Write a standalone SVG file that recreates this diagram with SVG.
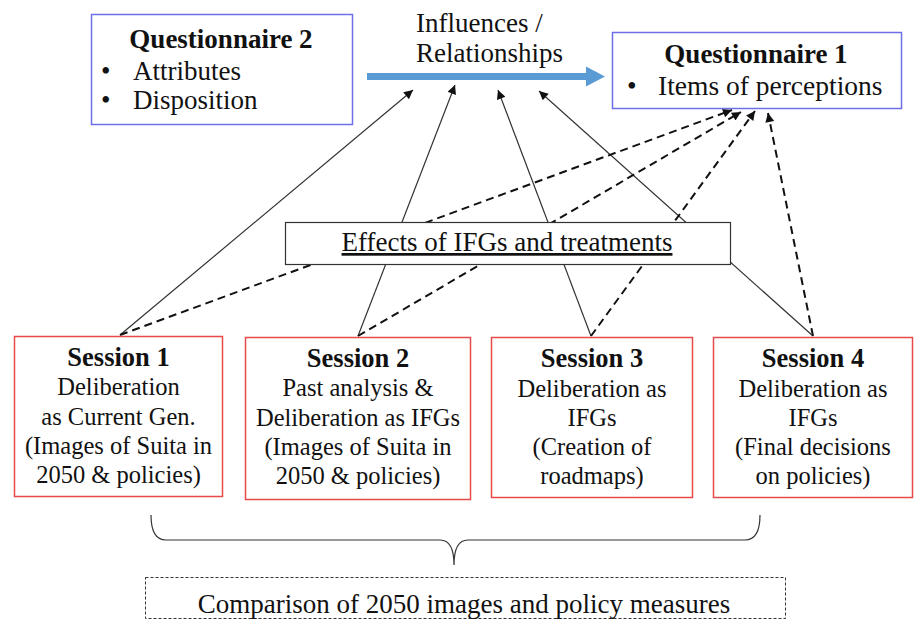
<svg xmlns="http://www.w3.org/2000/svg" width="914" height="619" viewBox="0 0 914 619">
<defs>
<style>
text{font-family:"Liberation Serif","Times New Roman",serif;fill:#111}
.t{font-size:27px}
.q{font-size:27.5px}
.b{font-size:27px;font-weight:bold}
.st{font-size:26.5px;font-weight:bold}
.s{font-size:24.5px}
.m{text-anchor:middle}
.qbox{fill:#fff;stroke:#6e6ee8;stroke-width:1.5}
.sbox{fill:#fff;stroke:#e84a4a;stroke-width:1.5}
.solid{stroke:#333;stroke-width:1.2;fill:none;marker-end:url(#ah)}
.dash{stroke:#111;stroke-width:2;stroke-dasharray:8 5;fill:none;marker-end:url(#ah)}
</style>
<marker id="ah" viewBox="0 0 10 10" refX="10" refY="5" markerWidth="11" markerHeight="9" markerUnits="userSpaceOnUse" orient="auto">
<path d="M0,0 L10,5 L0,10 z" fill="#111"/>
</marker>
</defs>
<rect width="914" height="619" fill="#fff"/>

<g id="connectors">
<line class="solid" x1="120" y1="335" x2="413" y2="90"/>
<line class="solid" x1="358" y1="336" x2="455" y2="85"/>
<line class="solid" x1="591" y1="336" x2="498" y2="90"/>
<line class="solid" x1="813" y1="336" x2="539" y2="91"/>
<line class="dash" x1="120" y1="335" x2="732" y2="110"/>
<line class="dash" x1="358" y1="336" x2="741" y2="112"/>
<line class="dash" x1="591" y1="336" x2="755" y2="111"/>
<line class="dash" x1="813" y1="336" x2="768" y2="113"/>
<line x1="367" y1="76.5" x2="589" y2="76.5" stroke="#5b9bd5" stroke-width="7"/>
<polygon points="586,66.5 605,76.5 586,86.5" fill="#5b9bd5"/>
<path d="M151,515 Q151,540 166,540 L440,540 Q454,540 454,565 Q454,540 468,540 L745,540 Q760,540 760,515" fill="none" stroke="#333" stroke-width="1.2"/>
</g>

<g id="questionnaire2">
<rect class="qbox" x="91.5" y="14.5" width="261" height="110"/>
<text class="b m" x="221" y="48">Questionnaire 2</text>
<text class="t" x="101" y="80">•</text>
<text class="t" x="133" y="80">Attributes</text>
<text class="t" x="101" y="109">•</text>
<text class="t" x="133" y="109">Disposition</text>
</g>

<g id="influences-label">
<text class="t" x="416" y="32">Influences /</text>
<text class="t" x="416" y="62">Relationships</text>
</g>

<g id="questionnaire1">
<rect class="qbox" x="612.5" y="32.5" width="289" height="76"/>
<text class="b m" x="756" y="63">Questionnaire 1</text>
<text class="q" x="627" y="95">•</text>
<text class="q" x="658" y="95">Items of perceptions</text>
</g>

<g id="effects">
<rect x="285.5" y="222.5" width="445" height="42" fill="#fff" stroke="#333" stroke-width="1.2"/>
<text class="t m" x="507" y="251" text-decoration="underline">Effects of IFGs and treatments</text>
</g>

<g id="session1">
<rect class="sbox" x="14.5" y="336.5" width="208" height="160"/>
<text class="st m" x="118.5" y="366">Session 1</text>
<text class="s m" x="118.5" y="395">Deliberation</text>
<text class="s m" x="118.5" y="424.5">as Current Gen.</text>
<text class="s m" x="118.5" y="454">(Images of Suita in</text>
<text class="s m" x="118.5" y="483">2050 &amp; policies)</text>
</g>

<g id="session2">
<rect class="sbox" x="245.5" y="337.5" width="225" height="162"/>
<text class="st m" x="358" y="367">Session 2</text>
<text class="s m" x="358" y="396">Past analysis &amp;</text>
<text class="s m" x="358" y="425.5">Deliberation as IFGs</text>
<text class="s m" x="358" y="455">(Images of Suita in</text>
<text class="s m" x="358" y="484">2050 &amp; policies)</text>
</g>

<g id="session3">
<rect class="sbox" x="491.5" y="337.5" width="201" height="160"/>
<text class="st m" x="592" y="367">Session 3</text>
<text class="s m" x="592" y="396.5">Deliberation as</text>
<text class="s m" x="592" y="426">IFGs</text>
<text class="s m" x="592" y="455">(Creation of</text>
<text class="s m" x="592" y="484">roadmaps)</text>
</g>

<g id="session4">
<rect class="sbox" x="713.5" y="337.5" width="199" height="160"/>
<text class="st m" x="813" y="367">Session 4</text>
<text class="s m" x="813" y="396.5">Deliberation as</text>
<text class="s m" x="813" y="426">IFGs</text>
<text class="s m" x="813" y="455">(Final decisions</text>
<text class="s m" x="813" y="484">on policies)</text>
</g>

<g id="comparison">
<rect x="145.5" y="577.5" width="640" height="41" fill="none" stroke="#333" stroke-width="1" stroke-dasharray="3 2"/>
<text class="t m" x="464" y="613">Comparison of 2050 images  and policy measures</text>
</g>
</svg>
